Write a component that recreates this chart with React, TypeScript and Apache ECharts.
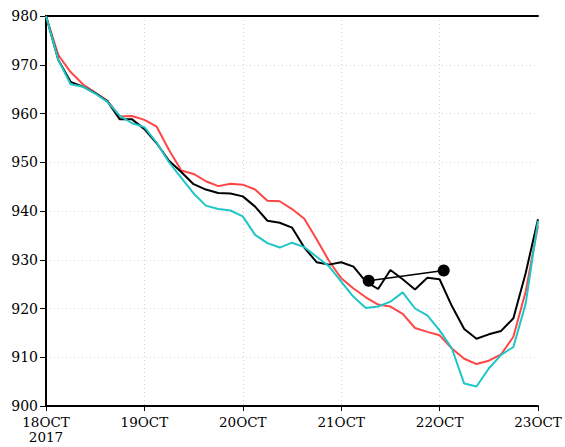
import React, { useEffect, useRef } from "react";
import * as echarts from "echarts";

// Forecast hours after 18 OCT 2017 00Z (3-hourly)
const hours = [
  0, 3, 6, 9, 12, 15, 18, 21, 24, 27, 30, 33, 36, 39, 42, 45, 48, 51, 54, 57, 60,
  63, 66, 69, 72, 75, 78, 81, 84, 87, 90, 93, 96, 99, 102, 105, 108, 111, 114, 117, 120,
];

// Minimum central pressure (hPa) for each run
const blackRun = [
  980, 971, 966.5, 965.5, 964.2, 962.5, 958.8, 958.8, 956.8, 953.9, 950.3, 948.0, 945.5, 944.4,
  943.7, 943.6, 943.0, 940.9, 938.0, 937.6, 936.6, 932.5, 929.5, 929.0, 929.5, 928.6, 925.5,
  924.0, 927.9, 926.0, 923.9, 926.3, 926.0, 920.5, 915.8, 913.8, 914.7, 915.4, 918.0, 927.3, 938.3,
];
const redRun = [
  980, 972, 968.5, 966.0, 964.3, 962.6, 959.4, 959.5, 958.7, 957.3, 952.5, 948.3, 947.6, 946.1,
  945.1, 945.6, 945.4, 944.4, 942.1, 942.0, 940.4, 938.4, 934.2, 929.8, 926.2, 924.1, 922.3,
  920.8, 920.4, 918.9, 916.0, 915.2, 914.5, 911.8, 909.7, 908.6, 909.3, 910.6, 914.2, 923.5, 937.0,
];
const cyanRun = [
  980, 971, 966, 965.5, 964.1, 962.4, 959.5, 958.0, 957.2, 954.0, 950.0, 946.8, 943.6, 941.1,
  940.4, 940.1, 938.9, 935.1, 933.4, 932.5, 933.5, 932.6, 930.6, 928.7, 925.5, 922.4, 920.1,
  920.4, 921.4, 923.3, 920.0, 918.6, 915.5, 911.8, 904.6, 904.0, 907.7, 910.5, 912.1, 921.0, 938.0,
];

// Observed points (hour, hPa)
const obsHours = [78.7, 97];
const obsPressure = [925.7, 927.8];

const dayLabels = ["18OCT", "19OCT", "20OCT", "21OCT", "22OCT", "23OCT"];
const yearLabel = "2017";

const FONT = "DejaVu Serif";

function pairs(xs: number[], ys: number[]) {
  return xs.map((x, i) => [x, ys[i]]);
}

export default function App() {
  const ref = useRef<HTMLDivElement>(null);

  useEffect(() => {
    if (!ref.current) return;
    const chart = echarts.init(ref.current, undefined, { renderer: "svg" });
    const frame = { show: true, lineStyle: { color: "#000", width: 2 } };
    const grid = { color: "#d4d4d4", width: 1, type: [1, 3] as number[] };

    chart.setOption({
      animation: false,
      backgroundColor: "#fff",
      grid: { left: 46, right: 27, top: 16, bottom: 41 },
      xAxis: [
        {
          type: "value",
          min: 0,
          max: 120,
          interval: 24,
          axisLine: frame,
          axisTick: { show: true, inside: false, length: 5, lineStyle: { color: "#000", width: 1 } },
          axisLabel: {
            margin: 8,
            color: "#000",
            fontFamily: FONT,
            fontSize: 13.5,
            lineHeight: 15,
            formatter: (v: number) => {
              const i = Math.round(v / 24);
              return i === 0 ? `${dayLabels[0]}\n${yearLabel}` : dayLabels[i];
            },
          },
          splitLine: { show: true, showMinLine: false, showMaxLine: false, lineStyle: grid },
        },
        {
          type: "value",
          position: "top",
          min: 0,
          max: 120,
          axisLine: frame,
          axisTick: { show: false },
          axisLabel: { show: false },
          splitLine: { show: false },
        },
      ],
      yAxis: [
        {
          type: "value",
          min: 900,
          max: 980,
          interval: 10,
          axisLine: frame,
          axisTick: { show: true, inside: false, length: 6, lineStyle: { color: "#000", width: 1 } },
          axisLabel: { margin: 8, color: "#000", fontFamily: FONT, fontSize: 14 },
          splitLine: { show: true, showMinLine: false, showMaxLine: false, lineStyle: grid },
        },
        {
          type: "value",
          position: "right",
          min: 900,
          max: 980,
          axisLine: frame,
          axisTick: { show: false },
          axisLabel: { show: false },
          splitLine: { show: false },
        },
      ],
      series: [
        {
          type: "line",
          data: pairs(hours, redRun),
          showSymbol: false,
          lineStyle: { color: "#ff4646", width: 2 },
          itemStyle: { color: "#ff4646" },
        },
        {
          type: "line",
          data: pairs(hours, blackRun),
          showSymbol: false,
          lineStyle: { color: "#000", width: 2 },
          itemStyle: { color: "#000" },
        },
        {
          type: "line",
          data: pairs(hours, cyanRun),
          showSymbol: false,
          lineStyle: { color: "#1ec6c6", width: 2 },
          itemStyle: { color: "#1ec6c6" },
        },
        {
          type: "line",
          data: pairs(obsHours, obsPressure),
          symbol: "circle",
          symbolSize: 12,
          lineStyle: { color: "#000", width: 1.5 },
          itemStyle: { color: "#000" },
          z: 5,
        },
      ],
    });

    return () => chart.dispose();
  }, []);

  return (
    <div
      ref={ref}
      style={{ position: "absolute", left: 0, top: 0, width: 565, height: 447 }}
    />
  );
}
